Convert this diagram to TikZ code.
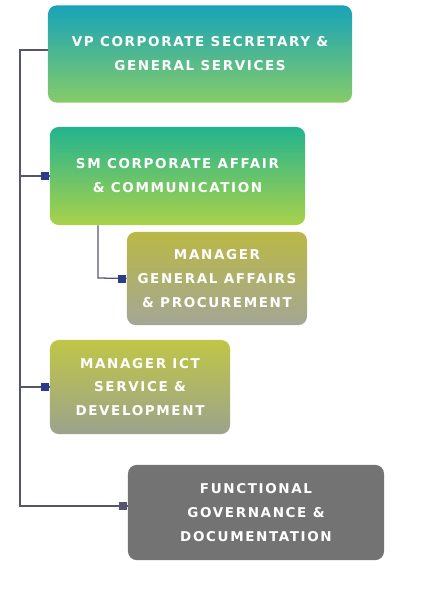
\documentclass[tikz,border=0pt]{standalone}
\usepackage{fontspec}
\setsansfont[LetterSpace=12]{DejaVu Sans}
\definecolor{rail}{HTML}{55566E}
\definecolor{navy}{HTML}{2E3A8C}
\definecolor{vptop}{HTML}{17A3B8}
\definecolor{vpmid}{HTML}{22B0B0}
\definecolor{vpbot}{HTML}{86CC68}
\definecolor{smtop}{HTML}{22B48E}
\definecolor{smbot}{HTML}{AAD24A}
\definecolor{gatop}{HTML}{BAB846}
\definecolor{gabot}{HTML}{A4A795}
\definecolor{icttop}{HTML}{C0C646}
\definecolor{ictbot}{HTML}{9CA38C}
\definecolor{fgdcol}{HTML}{737373}
\tikzset{
  post/.style={rounded corners=0.22cm, align=center, text=white,
    font=\sffamily\bfseries\fontsize{9.6}{17}\selectfont, inner sep=0pt},
  conn/.style={draw=rail, line width=0.9pt},
  dot/.style={fill=navy, minimum size=0.2cm, inner sep=0pt, anchor=east}
}
\begin{document}
\begin{tikzpicture}[x=0.025cm,y=-0.025cm]
\useasboundingbox (0,0) rectangle (439,599);

% posts
\node[post, minimum width=7.6cm, minimum height=2.43cm,
  top color=vptop, middle color=vpmid, bottom color=vpbot] (vp) at (200,54)
  {VP CORPORATE SECRETARY \&\\GENERAL SERVICES};
\node[post, minimum width=6.38cm, minimum height=2.45cm,
  top color=smtop, bottom color=smbot] (sm) at (177.5,176)
  {SM CORPORATE AFFAIR\\\& COMMUNICATION};
\node[post, minimum width=4.5cm, minimum height=2.33cm,
  top color=gatop, bottom color=gabot] (ga) at (217,278.5)
  {MANAGER\\GENERAL AFFAIRS\\\& PROCUREMENT};
\node[post, minimum width=4.5cm, minimum height=2.35cm,
  top color=icttop, bottom color=ictbot] (ict) at (140,387)
  {MANAGER ICT\\SERVICE \&\\DEVELOPMENT};
\node[post, minimum width=6.4cm, minimum height=2.38cm,
  fill=fgdcol] (fgd) at (256,512.5)
  {FUNCTIONAL\\GOVERNANCE \&\\DOCUMENTATION};

% rails
\coordinate (railtop) at (20,50);
\coordinate (railbot) at (20,506);
\coordinate (subrail) at (98,278);
\draw[conn] (vp.west |- railtop) -- (railtop) -- (railbot) -- (railbot -| fgd.west);
\draw[conn] (sm.west -| railtop) -- (sm.west);
\draw[conn] (ict.west -| railtop) -- (ict.west);
\draw[conn] (sm.south -| subrail) -- (subrail) -- (ga.west);

% markers
\foreach \n in {sm,ga,ict}
  \node[dot] at (\n.west) {};
\node[dot, fill=rail] at (railbot -| fgd.west) {};
\end{tikzpicture}
\end{document}
